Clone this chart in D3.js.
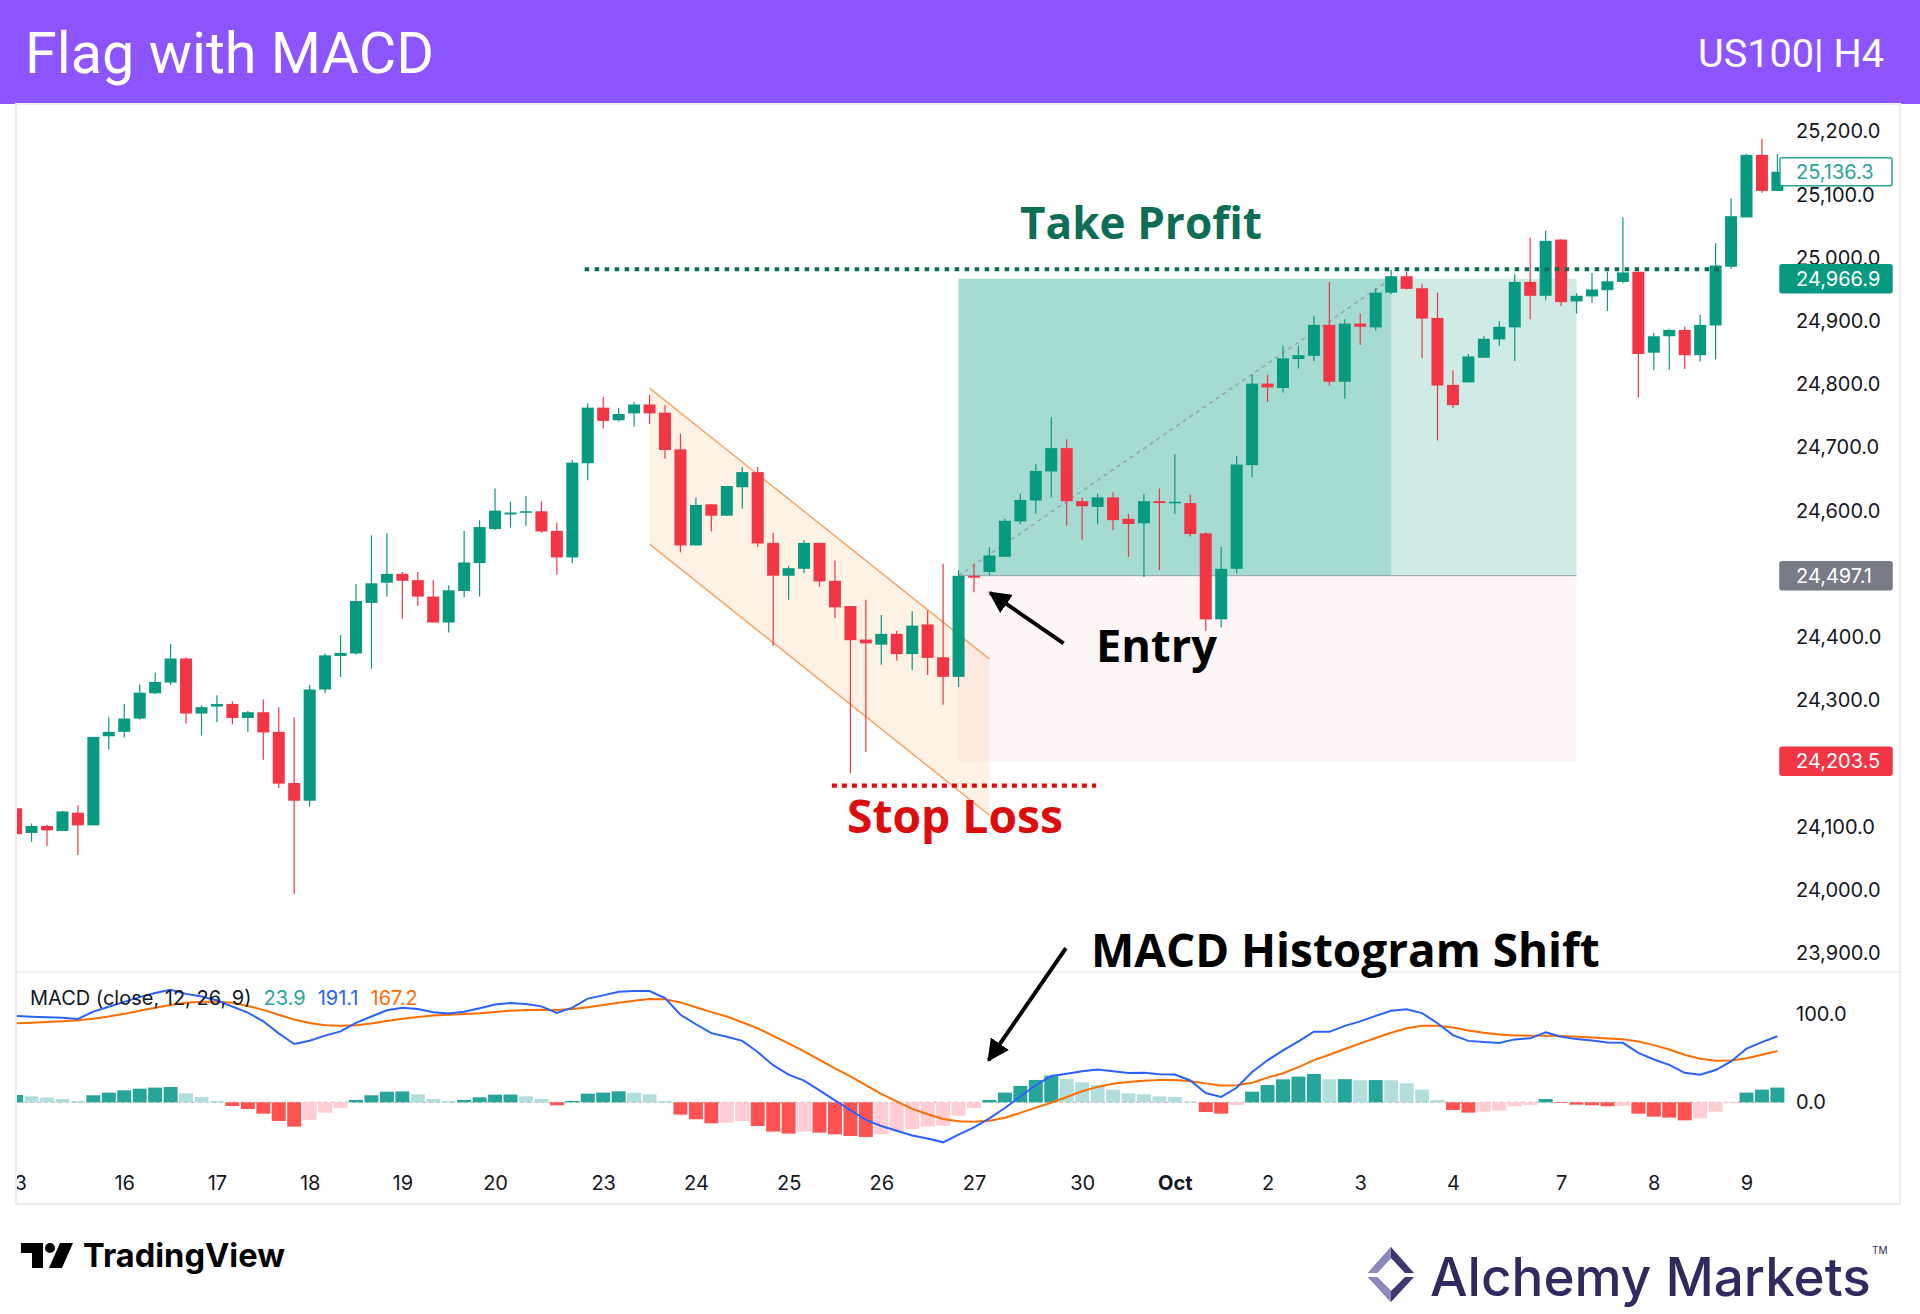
<!DOCTYPE html>
<html>
<head>
<meta charset="utf-8">
<script src="https://cdn.jsdelivr.net/npm/d3@7"></script>
<style>
  html, body { margin: 0; padding: 0; background: #fff; }
  svg { display: block; }
</style>
</head>
<body>
<div id="chart"></div>
<script>
const width = 1920, height = 1314;

// US100 H4 candles, bar 0 = Sep 13 (first visible bar)
const opens = [
  24129, 24090, 24101, 24093, 24122, 24102, 24243, 24250, 24271, 24311,
  24328, 24366, 24279, 24290, 24294, 24272, 24281, 24250, 24169, 24141,
  24317, 24370, 24374, 24454, 24486, 24500, 24490, 24464, 24423, 24473,
  24517, 24571, 24594, 24597, 24599, 24568, 24526, 24675, 24763, 24743,
  24754, 24768, 24755, 24697, 24545, 24610, 24592, 24637, 24661, 24549,
  24497, 24508, 24549, 24489, 24449, 24396, 24388, 24405, 24373, 24420,
  24368, 24337, 24497, 24503, 24527, 24583, 24616, 24662, 24699, 24615,
  24606, 24621, 24587, 24580, 24615, 24612, 24612, 24564, 24428, 24508,
  24672, 24801, 24794, 24840, 24845, 24894, 24804, 24896, 24890, 24945,
  24971, 24952, 24905, 24799, 24803, 24842, 24871, 24890, 24962, 24940,
  25029, 24931, 24939, 24949, 24962, 24978, 24850, 24876, 24886, 24846,
  24893, 24986, 25064, 25163, 25106];
const highs = [
  24130, 24105, 24103, 24125, 24134, 24242, 24273, 24294, 24325, 24344,
  24389, 24368, 24292, 24308, 24298, 24283, 24301, 24289, 24273, 24324,
  24374, 24403, 24484, 24561, 24564, 24503, 24503, 24490, 24482, 24568,
  24585, 24635, 24614, 24623, 24615, 24581, 24680, 24770, 24780, 24763,
  24772, 24783, 24767, 24722, 24621, 24610, 24639, 24669, 24669, 24565,
  24513, 24553, 24549, 24521, 24449, 24459, 24435, 24410, 24441, 24442,
  24516, 24506, 24516, 24542, 24587, 24627, 24674, 24748, 24713, 24621,
  24627, 24629, 24595, 24626, 24635, 24689, 24625, 24566, 24543, 24687,
  24815, 24815, 24861, 24861, 24908, 24962, 24903, 24912, 24952, 24981,
  24978, 24959, 24945, 24822, 24848, 24876, 24900, 24974, 25032, 25043,
  25029, 24944, 24976, 24978, 25064, 24978, 24881, 24888, 24891, 24910,
  25023, 25094, 25165, 25189, 25164];
const lows = [
  24087, 24076, 24069, 24093, 24055, 24102, 24222, 24241, 24269, 24310,
  24324, 24263, 24244, 24265, 24262, 24250, 24206, 24161, 23993, 24132,
  24311, 24337, 24372, 24350, 24464, 24429, 24449, 24423, 24407, 24463,
  24464, 24569, 24573, 24576, 24565, 24499, 24517, 24648, 24730, 24741,
  24733, 24737, 24682, 24534, 24545, 24567, 24592, 24603, 24543, 24386,
  24459, 24501, 24480, 24430, 24184, 24218, 24356, 24363, 24348, 24340,
  24293, 24321, 24471, 24498, 24527, 24579, 24595, 24621, 24576, 24554,
  24579, 24569, 24527, 24495, 24506, 24595, 24559, 24410, 24415, 24501,
  24653, 24772, 24787, 24825, 24837, 24798, 24777, 24862, 24885, 24943,
  24950, 24841, 24711, 24762, 24803, 24842, 24861, 24837, 24903, 24933,
  24924, 24912, 24929, 24916, 24960, 24779, 24822, 24823, 24824, 24836,
  24839, 24983, 25064, 25103, 25106];
const closes = [
  24088, 24101, 24094, 24124, 24102, 24242, 24250, 24271, 24312, 24329,
  24366, 24279, 24289, 24294, 24272, 24281, 24249, 24168, 24141, 24317,
  24371, 24375, 24457, 24485, 24500, 24489, 24464, 24423, 24474, 24518,
  24574, 24600, 24597, 24599, 24567, 24526, 24676, 24763, 24742, 24753,
  24768, 24754, 24696, 24545, 24609, 24592, 24639, 24661, 24548, 24497,
  24509, 24549, 24488, 24447, 24395, 24390, 24405, 24373, 24418, 24367,
  24337, 24497, 24494, 24529, 24584, 24617, 24663, 24699, 24615, 24607,
  24621, 24585, 24579, 24615, 24612, 24614, 24563, 24428, 24508, 24673,
  24801, 24795, 24841, 24846, 24894, 24804, 24896, 24891, 24945, 24971,
  24951, 24904, 24798, 24767, 24844, 24872, 24891, 24962, 24940, 25027,
  24930, 24940, 24950, 24963, 24977, 24848, 24876, 24886, 24846, 24894,
  24988, 25066, 25163, 25106, 25136.3];

// MACD (12, 26, 9)
const macdLine = [
  98.1, 97.3, 96.6, 96.0, 94.7, 103.0, 108.5, 114.1, 119.5, 124.2,
  127.9, 123.2, 120.3, 115.9, 108.8, 101.9, 92.1, 78.3, 66.3, 69.9,
  75.8, 80.6, 90.2, 97.5, 104.6, 107.3, 106.1, 102.3, 101.0, 103.0,
  106.8, 111.2, 112.8, 111.8, 109.0, 101.6, 107.5, 117.8, 121.5, 125.5,
  126.5, 126.4, 118.5, 99.5, 88.7, 78.6, 74.4, 69.8, 57.1, 42.2,
  31.4, 24.7, 13.6, 2.1, -8.8, -19.9, -26.9, -32.3, -37.8, -41.2,
  -45.5, -36.7, -28.4, -18.3, -6.5, 6.6, 19.4, 29.8, 32.5, 35.2,
  37.2, 35.4, 33.2, 33.7, 32.0, 31.5, 24.8, 10.5, 6.1, 16.5,
  34.4, 47.7, 59.1, 69.2, 80.2, 80.1, 86.8, 92.0, 98.2, 104.0,
  105.7, 101.4, 89.8, 76.3, 69.8, 68.4, 67.5, 71.5, 72.7, 79.5,
  74.5, 71.8, 70.1, 68.0, 67.6, 56.1, 48.7, 42.6, 33.5, 31.3,
  36.7, 46.4, 61.0, 68.4, 75.0];
const signalLine = [
  89.8, 90.5, 91.3, 92.2, 93.2, 95.0, 97.5, 100.5, 104.0, 107.5,
  110.5, 113.0, 114.2, 114.4, 113.0, 109.5, 105.0, 99.5, 94.0, 90.0,
  87.5, 87.0, 87.5, 89.5, 92.5, 95.0, 97.0, 98.5, 99.5, 100.3,
  101.1, 102.5, 104.0, 105.0, 105.2, 105.0, 106.0, 108.0, 110.5, 113.0,
  115.5, 117.4, 117.0, 113.5, 108.0, 102.5, 97.5, 91.0, 84.0, 75.5,
  67.0, 58.0, 48.1, 38.5, 29.5, 19.5, 9.5, 1.0, -7.5, -13.5,
  -19.0, -21.5, -22.0, -21.0, -17.5, -12.0, -6.0, -0.5, 6.0, 12.5,
  17.5, 21.0, 23.0, 24.6, 25.2, 25.4, 24.0, 21.5, 19.0, 19.5,
  22.3, 28.0, 33.0, 40.0, 48.0, 54.0, 60.5, 67.0, 73.0, 79.0,
  84.1, 87.0, 87.1, 85.0, 81.5, 79.0, 77.0, 76.0, 75.7, 75.7,
  75.3, 74.5, 73.5, 72.5, 71.6, 69.0, 65.0, 60.0, 54.0, 49.5,
  47.3, 47.5, 50.0, 54.0, 58.3];
const histogram = [
  8.3, 6.8, 5.3, 3.8, 1.5, 8.0, 11.0, 13.6, 15.5, 16.7,
  17.4, 10.2, 6.1, 1.5, -4.2, -7.6, -12.9, -21.2, -27.7, -20.1,
  -11.7, -6.4, 2.7, 8.0, 12.1, 12.3, 9.1, 3.8, 1.5, 2.7,
  5.7, 8.7, 8.8, 6.8, 3.8, -3.4, 1.5, 9.8, 11.0, 12.5,
  11.0, 9.0, 1.5, -14.0, -19.3, -23.9, -23.1, -21.2, -26.9, -33.3,
  -35.6, -33.3, -34.5, -36.4, -38.3, -39.4, -36.4, -33.3, -30.3, -27.7,
  -26.5, -15.2, -6.4, 2.7, 11.0, 18.6, 25.4, 30.3, 26.5, 22.7,
  19.7, 14.4, 10.2, 9.1, 6.8, 6.1, 0.8, -11.0, -12.9, -3.0,
  12.1, 19.7, 26.1, 29.2, 32.2, 26.1, 26.3, 25.0, 25.2, 25.0,
  21.6, 14.4, 2.7, -8.7, -11.7, -10.6, -9.5, -4.5, -3.0, 3.8,
  -0.8, -2.7, -3.4, -4.5, -4.0, -12.9, -16.3, -17.4, -20.5, -18.2,
  -10.6, -1.1, 11.0, 14.4, 16.7];

// legend values as printed in the indicator header
const legendValues = [
  {text: '23.9', color: '#26a69a'},
  {text: '191.1', color: '#2962ff'},
  {text: '167.2', color: '#ff6d00'}
];

// time axis: label text and the bar it sits on
const dayLabels = ['13', '16', '17', '18', '19', '20', '23', '24', '25', '26', '27',
                   '30', 'Oct', '2', '3', '4', '7', '8', '9'];
const dayBars = [0, 7, 13, 19, 25, 31, 38, 44, 50, 56, 62, 69, 75, 81, 87, 93, 100, 106, 112];

// price scale labels (24,500 and 24,200 are hidden behind the badges)
const priceTicks = [23900, 24000, 24100, 24300, 24400, 24600,
                    24700, 24800, 24900, 25000, 25100, 25200];
const macdTicks = [0, 100];

// long position tool + flag drawing
const entryPrice = 24497.1, targetPrice = 24966.9, stopPrice = 24203.5;
const positionBars = [61, 89, 101]; // start, target hit, end
const flagBars = [41, 63];
const flagUpper = [24794, 24365];
const flagLower = [24547, 24118];
const takeProfitLine = {bars: [36.8, 110.3], price: 24982};
const stopLossLine = {bars: [52.8, 69.9], price: 24165};

// axis badges
const badges = [
  {price: 25136.3, fill: '#ffffff', stroke: '#26a69a', text: '#26a69a'},
  {price: 24966.9, fill: '#089981', stroke: '#089981', text: '#ffffff'},
  {price: 24497.1, fill: '#787b86', stroke: '#787b86', text: '#ffffff'},
  {price: 24203.5, fill: '#f23645', stroke: '#f23645', text: '#ffffff'}
];

const up = '#089981', down = '#f23645';
const frame = {left: 16, right: 1900, top: 104, bottom: 1204};
const plotRight = 1786;

const x = d3.scaleLinear().domain([0, opens.length - 1]).range([16.1, 16.1 + 15.45 * (opens.length - 1)]);
const step = x(1) - x(0);
const y = d3.scaleLinear().domain([23900, 25200]).range([953, 131.5]);
const ym = d3.scaleLinear().domain([0, 100]).range([1102.3, 1014.3]);

const svg = d3.select('#chart').append('svg')
  .attr('width', width).attr('height', height)
  .style('font-family', 'Inter, Roboto, sans-serif');

const defs = svg.append('defs');
defs.append('clipPath').attr('id', 'pricePane').append('rect')
  .attr('x', frame.left + 1).attr('y', frame.top).attr('width', plotRight - frame.left - 1).attr('height', 972 - frame.top);
defs.append('clipPath').attr('id', 'macdPane').append('rect')
  .attr('x', frame.left + 1).attr('y', 973).attr('width', plotRight - frame.left - 1).attr('height', 1160 - 973);
defs.append('clipPath').attr('id', 'timePane').append('rect')
  .attr('x', frame.left + 1).attr('y', 1160).attr('width', plotRight - frame.left).attr('height', 44);
defs.append('marker').attr('id', 'arrowHead')
  .attr('viewBox', '0 0 10 10').attr('refX', 9).attr('refY', 5)
  .attr('markerWidth', 5.5).attr('markerHeight', 5.5).attr('orient', 'auto')
  .append('path').attr('d', 'M0,0 L10,5 L0,10 Z').attr('fill', '#000');

function fit(sel, w) {
  const len = sel.node().getComputedTextLength();
  sel.attr('font-size', parseFloat(sel.attr('font-size')) * w / len);
  return sel;
}

// header band
svg.append('rect').attr('width', width).attr('height', frame.top).attr('fill', '#8c55ff');
fit(svg.append('text').attr('x', 25).attr('y', 73).attr('font-size', 58)
  .attr('font-family', 'Roboto, sans-serif').attr('fill', '#fff').text('Flag with MACD'), 409);
fit(svg.append('text').attr('x', 1884).attr('y', 67).attr('font-size', 42).attr('text-anchor', 'end')
  .attr('font-family', 'Roboto, sans-serif').attr('fill', '#fff').text('US100| H4'), 186);

// chart frame and pane separator
svg.append('rect').attr('x', frame.left).attr('y', frame.top)
  .attr('width', frame.right - frame.left).attr('height', frame.bottom - frame.top)
  .attr('fill', 'none').attr('stroke', '#ededed').attr('stroke-width', 2);
svg.append('line').attr('x1', frame.left).attr('x2', frame.right).attr('y1', 972).attr('y2', 972)
  .attr('stroke', '#eceef2').attr('stroke-width', 1.5);

// ---- price pane ----
const price = svg.append('g').attr('clip-path', 'url(#pricePane)');

// position tool zones
const xs = positionBars.map(x);
price.append('rect').attr('x', xs[0]).attr('width', xs[2] - xs[0])
  .attr('y', y(entryPrice)).attr('height', y(stopPrice) - y(entryPrice))
  .attr('fill', 'rgba(242,54,69,0.05)');
price.append('rect').attr('x', xs[0]).attr('width', xs[2] - xs[0])
  .attr('y', y(targetPrice)).attr('height', y(entryPrice) - y(targetPrice))
  .attr('fill', 'rgba(8,153,129,0.2)');
price.append('rect').attr('x', xs[0]).attr('width', xs[1] - xs[0])
  .attr('y', y(targetPrice)).attr('height', y(entryPrice) - y(targetPrice))
  .attr('fill', 'rgba(8,153,129,0.2)');
price.append('line').attr('x1', xs[0]).attr('x2', xs[2]).attr('y1', y(entryPrice)).attr('y2', y(entryPrice))
  .attr('stroke', '#9aa0a6').attr('stroke-width', 1);
price.append('line').attr('x1', xs[0]).attr('x2', xs[1]).attr('y1', y(entryPrice)).attr('y2', y(targetPrice))
  .attr('stroke', '#9598a1').attr('stroke-width', 1.2).attr('stroke-dasharray', '4,4');

// flag channel
const flagPts = [
  [x(flagBars[0]), y(flagUpper[0])], [x(flagBars[1]), y(flagUpper[1])],
  [x(flagBars[1]), y(flagLower[1])], [x(flagBars[0]), y(flagLower[0])]
];
price.append('path').attr('d', 'M' + flagPts.join('L') + 'Z').attr('fill', 'rgba(245,124,0,0.1)');
[flagUpper, flagLower].forEach(function(p) {
  price.append('line').attr('x1', x(flagBars[0])).attr('x2', x(flagBars[1]))
    .attr('y1', y(p[0])).attr('y2', y(p[1]))
    .attr('stroke', '#f7a564').attr('stroke-width', 1.5);
});

// candles
const candles = opens.map(function(o, i) {
  return {i: i, o: o, h: highs[i], l: lows[i], c: closes[i]};
});
const bodyW = 12;
const cg = price.selectAll('.candle').data(candles).enter().append('g').attr('class', 'candle');
cg.append('line')
  .attr('x1', d => x(d.i)).attr('x2', d => x(d.i))
  .attr('y1', d => y(d.h)).attr('y2', d => y(d.l))
  .attr('stroke', d => d.c >= d.o ? up : down).attr('stroke-width', 1.2);
cg.append('rect')
  .attr('x', d => x(d.i) - bodyW / 2).attr('width', bodyW)
  .attr('y', d => y(Math.max(d.o, d.c)))
  .attr('height', d => Math.max(1.5, Math.abs(y(d.o) - y(d.c))))
  .attr('fill', d => d.c >= d.o ? up : down);

// take profit / stop loss dotted lines
price.append('line')
  .attr('x1', x(takeProfitLine.bars[0])).attr('x2', x(takeProfitLine.bars[1]))
  .attr('y1', y(takeProfitLine.price)).attr('y2', y(takeProfitLine.price))
  .attr('stroke', '#0b6b50').attr('stroke-width', 4).attr('stroke-dasharray', '4.5,5.5');
price.append('line')
  .attr('x1', x(stopLossLine.bars[0])).attr('x2', x(stopLossLine.bars[1]))
  .attr('y1', y(stopLossLine.price)).attr('y2', y(stopLossLine.price))
  .attr('stroke', '#e00b0b').attr('stroke-width', 4.3).attr('stroke-dasharray', '5,5');

// price axis
const yAxis = svg.append('g').attr('transform', 'translate(1793,0)')
  .call(d3.axisRight(y).tickValues(priceTicks).tickSize(0).tickPadding(3).tickFormat(d3.format(',.1f')));
yAxis.select('.domain').remove();
yAxis.selectAll('text').attr('font-size', 20).attr('fill', '#131722').attr('font-family', 'Inter, sans-serif');

// badges on the price axis
const bg = svg.selectAll('.badge').data(badges).enter().append('g').attr('class', 'badge');
bg.append('rect').attr('x', 1780).attr('width', 112).attr('height', 28).attr('rx', 2)
  .attr('y', d => y(d.price) - 14)
  .attr('fill', d => d.fill).attr('stroke', d => d.stroke).attr('stroke-width', 1.5);
bg.append('text').attr('x', 1796).attr('y', d => y(d.price)).attr('dy', '0.35em')
  .attr('font-size', 20).attr('fill', d => d.text)
  .text(d => d3.format(',.1f')(d.price));

// ---- MACD pane ----
const macd = svg.append('g').attr('clip-path', 'url(#macdPane)');
macd.append('line').attr('x1', frame.left).attr('x2', plotRight)
  .attr('y1', ym(0)).attr('y2', ym(0))
  .attr('stroke', '#b2b5be').attr('stroke-width', 1).attr('stroke-dasharray', '4,3');
macd.selectAll('.hist').data(histogram).enter().append('rect').attr('class', 'hist')
  .attr('x', (d, i) => x(i) - step / 2 + 0.75).attr('width', step - 1.5)
  .attr('y', d => d >= 0 ? ym(d) : ym(0))
  .attr('height', d => Math.abs(ym(d) - ym(0)))
  .attr('fill', function(d, i) {
    const prev = i > 0 ? histogram[i - 1] : d;
    if (d >= 0) return d >= prev ? '#26a69a' : '#b2dfdb';
    return d <= prev ? '#ff5252' : '#ffcdd2';
  });
const lineGen = d3.line().x((d, i) => x(i)).y(d => ym(d));
macd.append('path').datum(signalLine).attr('d', lineGen)
  .attr('fill', 'none').attr('stroke', '#ff6d00').attr('stroke-width', 2);
macd.append('path').datum(macdLine).attr('d', lineGen)
  .attr('fill', 'none').attr('stroke', '#2962ff').attr('stroke-width', 2);

const legend = svg.append('text').attr('x', 30).attr('y', 1005).attr('font-size', 20).attr('fill', '#131722');
legend.append('tspan').text('MACD (close, 12, 26, 9)');
legend.selectAll('.val').data(legendValues).enter().append('tspan').attr('class', 'val')
  .attr('dx', 12).attr('fill', d => d.color).text(d => d.text);

const mAxis = svg.append('g').attr('transform', 'translate(1793,0)')
  .call(d3.axisRight(ym).tickValues(macdTicks).tickSize(0).tickPadding(3).tickFormat(d3.format('.1f')));
mAxis.select('.domain').remove();
mAxis.selectAll('text').attr('font-size', 20).attr('fill', '#131722').attr('font-family', 'Inter, sans-serif');

// ---- time axis ----
const xAxis = svg.append('g').attr('clip-path', 'url(#timePane)').append('g')
  .attr('transform', 'translate(0,1183)')
  .call(d3.axisBottom(x).tickValues(dayBars).tickSize(0).tickFormat((d, i) => dayLabels[i]));
xAxis.select('.domain').remove();
xAxis.selectAll('text').attr('y', 0).attr('dy', '0.35em')
  .attr('font-size', 20).attr('fill', '#131722').attr('font-family', 'Inter, sans-serif')
  .attr('font-weight', (d, i) => dayLabels[i] === 'Oct' ? 700 : 400);

// ---- annotations ----
const note = svg.append('g').attr('font-family', '"Open Sans", "Noto Sans", sans-serif').attr('font-weight', 700);
fit(note.append('text').attr('x', 1020).attr('y', 239).attr('font-size', 45).attr('fill', '#0d6e55').text('Take Profit'), 242);
fit(note.append('text').attr('x', 1096).attr('y', 662).attr('font-size', 45).attr('fill', '#000').text('Entry'), 121);
fit(note.append('text').attr('x', 847).attr('y', 833).attr('font-size', 45).attr('fill', '#dc0d0d').text('Stop Loss'), 216);
fit(note.append('text').attr('x', 1091).attr('y', 967).attr('font-size', 45).attr('fill', '#000').text('MACD Histogram Shift'), 509);

// arrows (bar index / price or macd units)
note.append('line')
  .attr('x1', x(67.8)).attr('y1', y(24390)).attr('x2', x(63.05)).attr('y2', y(24470))
  .attr('stroke', '#000').attr('stroke-width', 4).attr('marker-end', 'url(#arrowHead)');
note.append('line')
  .attr('x1', x(67.95)).attr('y1', ym(175.3)).attr('x2', x(62.95)).attr('y2', ym(48))
  .attr('stroke', '#000').attr('stroke-width', 4).attr('marker-end', 'url(#arrowHead)');

// ---- footer logos ----
const tv = svg.append('g').attr('fill', '#000');
tv.append('path').attr('d', 'M21,1243 H43 V1268 H32 V1253 H21 Z');
tv.append('circle').attr('cx', 50).attr('cy', 1248).attr('r', 5);
tv.append('path').attr('d', 'M60,1243 H73 L62,1268 H49 Z');
fit(tv.append('text').attr('x', 83).attr('y', 1267).attr('font-size', 34).attr('font-weight', 700)
  .attr('font-family', 'Inter, sans-serif').text('TradingView'), 202);

const am = svg.append('g');
am.append('path').attr('d', 'M1391,1247 L1414,1273 L1405,1273 L1391,1258 L1377,1273 L1368,1273 Z').attr('fill', '#3d3873');
am.append('path').attr('d', 'M1391,1247 L1391,1258 L1377,1273 L1368,1273 Z').attr('fill', '#8d88bd');
am.append('path').attr('d', 'M1368,1277 L1377,1277 L1391,1291 L1405,1277 L1414,1277 L1391,1302 Z').attr('fill', '#3d3873');
am.append('path').attr('d', 'M1368,1277 L1377,1277 L1391,1291 L1391,1302 Z').attr('fill', '#8d88bd');
fit(am.append('text').attr('x', 1430).attr('y', 1296).attr('font-size', 62).attr('font-weight', 500)
  .attr('font-family', 'Inter, sans-serif').attr('fill', '#2f2b5f').text('Alchemy Markets'), 441);
am.append('text').attr('x', 1872).attr('y', 1254).attr('font-size', 10).attr('fill', '#2f2b5f').text('TM');
</script>
</body>
</html>
